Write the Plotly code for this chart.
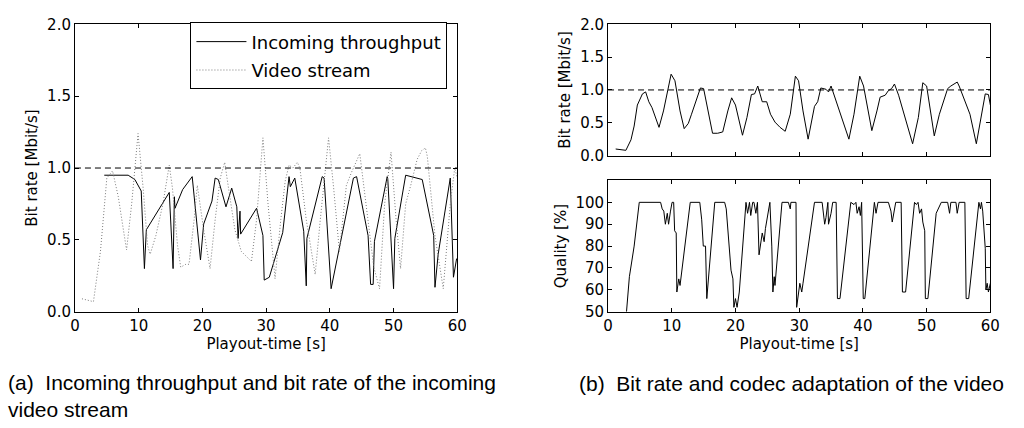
import plotly.graph_objects as go

# ---------------- data ----------------
# (a) Incoming throughput (solid)
thr_t = [4.6, 8.35, 9.4, 10.4, 10.9, 11.2, 14.8, 15.4, 15.6, 15.7, 16.9, 18.4, 19.7, 20.2, 21.5,
         22.0, 22.5, 23.7, 24.6, 25.4, 25.6, 25.9, 26.0, 28.5, 29.5, 29.7, 30.5, 32.6, 33.6, 33.8,
         34.5, 35.9, 36.3, 36.4, 38.8, 39.1, 40.2, 43.7, 44.2, 46.0, 46.4, 46.8, 47.0, 49.0, 49.1,
         50.0, 50.2, 51.9, 54.5, 56.3, 56.5, 57.0, 58.9, 59.4, 59.9]
thr_v = [0.95, 0.95, 0.92, 0.84, 0.30, 0.57, 0.83, 0.30, 0.80, 0.72, 0.85, 0.94, 0.36, 0.61, 0.77,
         0.93, 0.92, 0.73, 0.86, 0.73, 0.51, 0.70, 0.54, 0.72, 0.53, 0.22, 0.24, 0.55, 0.94, 0.87,
         0.93, 0.56, 0.18, 0.51, 0.94, 0.93, 0.16, 0.93, 0.94, 0.53, 0.19, 0.19, 0.49, 0.94, 0.92,
         0.16, 0.51, 0.95, 0.92, 0.53, 0.17, 0.40, 0.93, 0.24, 0.37]

# (a) Video stream (dotted)
vid_t = [1.1, 2.9, 4.0, 5.0, 5.9, 6.8, 7.6, 8.1, 8.9, 9.4, 9.9, 10.7, 11.4, 11.8, 12.7, 13.8,
         14.8, 15.3, 16.1, 16.6, 17.4, 17.9, 18.7, 19.2, 20.2, 21.2, 22.0, 22.8, 23.5, 24.1, 25.1,
         26.1, 27.7, 28.5, 29.0, 29.5, 30.3, 31.4, 32.3, 33.0, 33.6, 34.2, 34.9, 35.3, 36.3, 37.7,
         38.5, 39.3, 39.8, 40.6, 41.5, 42.6, 43.4, 44.7, 45.7, 46.9, 47.8, 48.6, 49.6, 50.4, 51.1,
         51.9, 52.7, 53.7, 54.4, 55.0, 55.3, 56.5, 57.8, 58.9, 59.6, 60.0]
vid_v = [0.09, 0.07, 0.42, 0.93, 0.98, 0.80, 0.57, 0.43, 0.75, 1.02, 1.24, 0.86, 0.46, 0.40, 0.53,
         0.75, 1.02, 0.86, 0.46, 0.31, 0.33, 0.33, 0.64, 0.88, 0.57, 0.30, 0.64, 0.93, 1.04, 0.86,
         0.57, 0.42, 0.35, 0.64, 0.93, 1.21, 0.75, 0.23, 0.64, 0.91, 1.02, 1.00, 1.04, 1.00, 0.64,
         0.26, 0.64, 1.02, 1.21, 0.86, 0.42, 0.88, 0.97, 1.10, 0.75, 0.31, 0.16, 0.75, 1.11, 0.64,
         0.30, 0.75, 0.88, 1.06, 1.12, 1.14, 1.08, 0.53, 0.16, 0.75, 1.00, 0.93]

# (b) Bit rate
br_t = [1.2, 2.0, 2.8, 3.6, 4.1, 4.6, 5.4, 5.9, 6.4, 6.9, 8.0, 8.7, 9.3, 9.9, 10.5, 11.3, 11.95,
        12.6, 13.1, 13.9, 14.5, 15.0, 15.7, 16.4, 17.2, 18.0, 18.8, 19.4, 20.0, 21.1, 21.8, 22.5,
        23.0, 23.5, 24.2, 24.9, 25.5, 26.2, 27.0, 27.8, 28.6, 29.4, 29.9, 30.6, 31.4, 32.4, 32.9,
        33.4, 34.2, 34.6, 35.0, 35.5, 36.3, 37.1, 37.8, 38.6, 39.5, 40.1, 40.7, 41.4, 42.2, 42.7,
        43.5, 44.0, 44.5, 44.95, 45.6, 46.6, 47.8, 48.7, 49.4, 50.0, 50.5, 51.2, 52.0, 52.7, 53.3,
        53.8, 54.4, 54.8, 55.1, 55.9, 56.8, 57.8, 58.7, 59.2, 59.7, 60.0]
br_v = [0.10, 0.09, 0.08, 0.24, 0.45, 0.77, 0.94, 0.97, 0.82, 0.73, 0.43, 0.68, 0.95, 1.24, 1.14,
        0.68, 0.41, 0.49, 0.63, 0.87, 1.03, 1.02, 0.68, 0.34, 0.34, 0.36, 0.68, 0.88, 0.77, 0.31,
        0.58, 0.93, 0.94, 1.06, 0.82, 0.82, 0.63, 0.51, 0.43, 0.37, 0.63, 1.21, 1.14, 0.68, 0.25,
        0.75, 0.82, 1.03, 1.01, 0.97, 1.06, 0.92, 0.68, 0.46, 0.25, 0.63, 1.21, 1.06, 0.77, 0.38,
        0.68, 0.89, 0.92, 0.99, 1.02, 1.09, 0.92, 0.58, 0.18, 0.58, 1.11, 1.06, 0.77, 0.30, 0.63,
        0.86, 1.02, 1.06, 1.09, 1.12, 1.06, 0.87, 0.63, 0.18, 0.71, 0.94, 0.93, 0.77]

# (b) Quality
q_t = [2.9, 3.35, 4.1, 4.75, 4.9, 8.25, 8.5, 8.75, 9.0, 9.3, 9.5, 9.8, 10.05, 10.3, 10.45, 10.7,
       10.8, 11.1, 11.3, 12.9, 14.4, 14.7, 14.95, 15.3, 15.5, 16.75, 18.3, 18.55, 19.3, 19.6,
       19.75, 20.0, 20.25, 20.6, 21.65, 21.9, 22.2, 22.4, 22.7, 22.9, 23.2, 23.45, 23.7, 24.2,
       24.5, 24.7, 25.4, 25.7, 25.87, 26.08, 26.2, 27.3, 28.3, 28.6, 28.7, 29.5, 29.6, 30.1, 30.4,
       30.6, 32.4, 33.6, 33.8, 34.0, 34.2, 34.5, 34.6, 35.0, 35.26, 35.8, 36.0, 36.4, 38.1, 38.6,
       38.9, 39.1, 39.4, 39.6, 39.8, 40.05, 40.3, 41.8, 42.06, 42.37, 44.0, 44.4, 44.6, 44.95,
       45.15, 46.0, 46.2, 46.7, 48.1, 48.4, 48.65, 48.9, 49.2, 49.4, 49.7, 49.8, 50.2, 51.5, 51.8,
       52.0, 52.3, 53.3, 53.6, 53.8, 54.6, 54.8, 55.1, 56.0, 56.2, 56.6, 58.2, 58.45, 58.6, 58.8,
       59.0, 59.2, 59.3, 59.5, 59.7, 60.0]
q_v = [50, 66, 80, 98, 100, 100, 97, 96, 90, 95, 90, 96, 100, 100, 87, 86,
       59, 65, 62, 100, 100, 92, 80, 80, 56, 100, 100, 97, 69, 65,
       52, 56, 52, 59, 100, 95, 100, 94, 100, 100, 95, 100, 76, 86,
       82, 88, 100, 80, 59, 66, 62, 100, 100, 97, 100, 100, 52, 63, 59,
       63, 100, 100, 93, 90, 93, 100, 90, 95, 100, 100, 56, 56, 100, 99,
       100, 95, 98, 94, 100, 56, 56, 100, 95, 100, 100, 96, 91, 96,
       100, 100, 59, 59, 100, 99, 100, 95, 97, 91, 87, 56, 56, 95, 97,
       98, 100, 100, 95, 100, 100, 95, 100, 100, 56, 56, 100, 97, 100, 96,
       88, 79, 60, 63, 59, 63]

x_ticks = [0, 10, 20, 30, 40, 50, 60]
br_ticks = [0.0, 0.5, 1.0, 1.5, 2.0]
q_ticks = [50, 60, 70, 80, 90, 100]
ref_rate = 1.0

# ---------------- figure ----------------
W, H = 1024, 428
FONT = "DejaVu Sans"


def fx(p):
    return p / W


def fy(p):
    return 1 - p / H


fig = go.Figure()
fig.add_trace(go.Scatter(x=thr_t, y=thr_v, name="Incoming throughput", mode="lines", legendgroup="a",
                         line=dict(color="black", width=1), xaxis="x", yaxis="y"))
fig.add_trace(go.Scatter(x=vid_t, y=vid_v, name="Video stream", mode="lines", legendgroup="b",
                         line=dict(color="#7a7a7a", width=1, dash="1px,2px"), xaxis="x", yaxis="y"))
fig.add_trace(go.Scatter(x=br_t, y=br_v, mode="lines", showlegend=False,
                         line=dict(color="black", width=1), xaxis="x2", yaxis="y2"))
fig.add_trace(go.Scatter(x=q_t, y=q_v, mode="lines", showlegend=False,
                         line=dict(color="black", width=1), xaxis="x3", yaxis="y3"))

common = dict(showline=True, linecolor="black", linewidth=1, mirror="ticks", ticks="inside",
              ticklen=4, tickcolor="black", tickwidth=1, showgrid=False, zeroline=False,
              tickfont=dict(family=FONT, size=15, color="black"))
title_font = dict(family=FONT, size=15, color="black")

fig.update_layout(
    width=W, height=H,
    margin=dict(l=0, r=0, t=0, b=0),
    paper_bgcolor="white", plot_bgcolor="white",
    xaxis=dict(domain=[fx(71), fx(459)], range=[0, 60], tickvals=x_ticks, anchor="y",
               title=dict(text="Playout-time [s]", font=title_font, standoff=1), **common),
    yaxis=dict(domain=[fy(316), fy(16)], range=[0, 2], tickvals=br_ticks, tickformat=".1f",
               anchor="x", title=dict(text="Bit rate [Mbit/s]", font=title_font, standoff=5),
               **common),
    xaxis2=dict(domain=[fx(612), fx(1000)], range=[0, 60], tickvals=x_ticks, anchor="y2",
                showticklabels=False, **common),
    yaxis2=dict(domain=[fy(153), fy(16)], range=[0, 2], tickvals=br_ticks, tickformat=".1f",
                anchor="x2", title=dict(text="Bit rate [Mbit/s]", font=title_font, standoff=5),
                **common),
    xaxis3=dict(domain=[fx(612), fx(1000)], range=[0, 60], tickvals=x_ticks, anchor="y3",
                title=dict(text="Playout-time [s]", font=title_font, standoff=1), **common),
    yaxis3=dict(domain=[fy(316), fy(179)], range=[50, 110], tickvals=q_ticks, anchor="x3",
                title=dict(text="Quality [%]", font=title_font, standoff=5), **common),
    legend=dict(x=fx(449), xanchor="right", y=fy(14), yanchor="top",
                bordercolor="black", borderwidth=1, bgcolor="white", itemwidth=50,
                tracegroupgap=2,
                font=dict(family=FONT, size=18, color="black")),
    showlegend=True,
)

dash_line = dict(color="black", width=1, dash="6px,4px")
fig.add_shape(type="line", xref="x", yref="y", x0=0, x1=60, y0=ref_rate, y1=ref_rate, line=dash_line)
fig.add_shape(type="line", xref="x2", yref="y2", x0=0, x1=60, y0=ref_rate, y1=ref_rate, line=dash_line)

cap_font = dict(family="Liberation Sans", size=21, color="black")
fig.add_annotation(text="(a)\u00a0\u00a0Incoming throughput and bit rate of the incoming<br>video stream",
                   xref="paper", yref="paper", align="left",
                   x=fx(1), y=fy(404), xanchor="left", yanchor="middle", showarrow=False, font=cap_font)
fig.add_annotation(text="(b)\u00a0\u00a0Bit rate and codec adaptation of the video", xref="paper", yref="paper",
                   x=fx(581), y=fy(391), xanchor="left", yanchor="middle", showarrow=False, font=cap_font)

fig.write_html("out.html")
